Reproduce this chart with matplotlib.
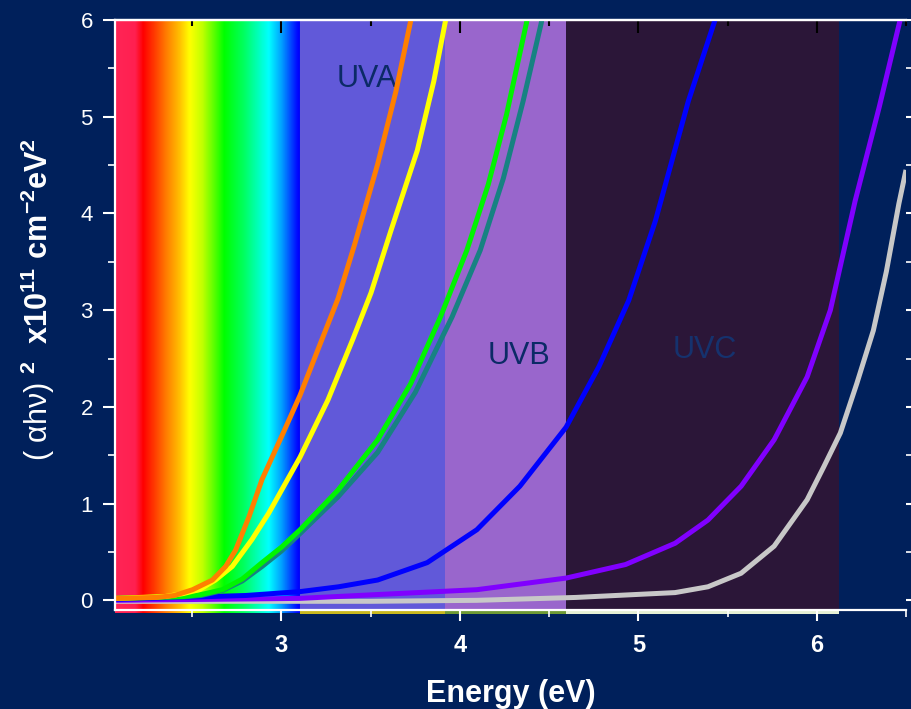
import numpy as np
import matplotlib
matplotlib.use("Agg")
import matplotlib.pyplot as plt
from matplotlib.colors import LinearSegmentedColormap

plt.rcParams['font.family'] = ['Liberation Sans', 'DejaVu Sans']
plt.rcParams['mathtext.fontset'] = 'custom'
plt.rcParams['mathtext.rm'] = 'Liberation Sans'
plt.rcParams['mathtext.bf'] = 'Liberation Sans:bold'

BG = '#00205B'

# Tauc plot curves, (alpha h nu)^2 x1e11 cm^-2 eV^2 vs energy (eV)
orange_e = [2.067, 2.30, 2.40, 2.502, 2.613, 2.687, 2.743, 2.817, 2.891, 3.002, 3.104, 3.206,
            3.317, 3.410, 3.539, 3.641, 3.724, 3.75]
orange_v = [0.02, 0.03, 0.05, 0.11, 0.21, 0.35, 0.52, 0.86, 1.25, 1.70, 2.12, 2.60,
            3.12, 3.68, 4.51, 5.26, 5.99, 6.25]

yellow_e = [2.067, 2.35, 2.45, 2.539, 2.630, 2.724, 2.835, 2.928, 3.104, 3.26, 3.40, 3.502,
            3.613, 3.761, 3.854, 3.919, 3.95]
yellow_v = [0.02, 0.04, 0.07, 0.11, 0.21, 0.35, 0.63, 0.90, 1.48, 2.07, 2.70, 3.18,
            3.82, 4.65, 5.37, 5.99, 6.30]

green_e = [2.067, 2.45, 2.55, 2.669, 2.78, 2.891, 3.0, 3.104, 3.317, 3.539, 3.724, 3.891,
           4.039, 4.159, 4.261, 4.373, 4.40]
green_v = [0.02, 0.04, 0.06, 0.11, 0.22, 0.39, 0.55, 0.73, 1.14, 1.66, 2.24, 2.93,
           3.62, 4.30, 5.02, 5.97, 6.25]

teal_e = [2.067, 2.45, 2.55, 2.667, 2.78, 2.891, 3.0, 3.104, 3.317, 3.539, 3.75, 3.956,
          4.114, 4.243, 4.354, 4.456, 4.48]
teal_v = [0.02, 0.035, 0.05, 0.10, 0.20, 0.35, 0.51, 0.69, 1.07, 1.53, 2.15, 2.93,
          3.62, 4.36, 5.16, 5.97, 6.25]

blue_e = [2.067, 2.428, 2.8, 3.104, 3.32, 3.539, 3.817, 4.095, 4.336, 4.595, 4.78, 4.946,
          5.095, 5.28, 5.428, 5.45]
blue_v = [0.01, 0.03, 0.05, 0.09, 0.14, 0.21, 0.39, 0.73, 1.18, 1.79, 2.42, 3.10,
          3.92, 5.16, 5.99, 6.20]

purple_e = [2.067, 3.10, 3.54, 4.095, 4.595, 4.928, 5.206, 5.39, 5.576, 5.761, 5.946, 6.076,
            6.215, 6.35, 6.467, 6.50]
purple_v = [0.00, 0.02, 0.06, 0.11, 0.23, 0.37, 0.59, 0.83, 1.18, 1.66, 2.31, 3.00,
            4.13, 5.10, 6.00, 6.25]

gray_e = [2.067, 3.5, 4.095, 4.651, 5.206, 5.39, 5.576, 5.761, 5.946, 6.039, 6.132, 6.224,
          6.317, 6.39, 6.46, 6.50]
gray_v = [-0.01, -0.01, 0.00, 0.03, 0.08, 0.14, 0.28, 0.56, 1.04, 1.38, 1.73, 2.24,
          2.79, 3.40, 4.10, 4.45]

curves = [
    (gray_e, gray_v, '#C8C8C8'),
    (purple_e, purple_v, '#8000FF'),
    (blue_e, blue_v, '#0000FF'),
    (teal_e, teal_v, '#178282'),
    (green_e, green_v, '#00F500'),
    (yellow_e, yellow_v, '#FFFF00'),
    (orange_e, orange_v, '#FF7F00'),
]

# visible spectrum gradient and UV bands
rainbow_e = [2.067, 2.178, 2.223, 2.278, 2.356, 2.428, 2.484, 2.556, 2.678, 2.789, 2.873, 2.928, 3.0, 3.056, 3.095, 3.106]
rainbow_c = ['#FF2556', '#FF2050', '#FF0000', '#FF3300', '#FF8000', '#FFC000', '#FFFF00', '#C0FF00',
             '#00FF00', '#00FF60', '#00FFC0', '#00FFFF', '#00A0FF', '#0040FF', '#0000FF', '#0010F0']
band_edges = [3.106, 3.917, 4.595, 6.123]
band_colors = ['#6159D9', '#9966CC', '#2B1638']
strip_colors = ['#C9B81E', '#6E9A34', '#E6F0D5']
band_names = ['UVA', 'UVB', 'UVC']
band_label_xy = [(3.48, 5.39), (4.33, 2.53), (5.374, 2.59)]
band_label_colors = ['#0B2A66', '#0B2A66', '#15326E']

fig = plt.figure(figsize=(9.12, 7.09), dpi=100, facecolor=BG)
ax = fig.add_axes([115 / 912, 99 / 709, 791 / 912, 590 / 709])
ax.set_facecolor(BG)
ax.set_xlim(2.067, 6.46)
ax.set_ylim(-0.1, 6.0)

pos = [(e - rainbow_e[0]) / (rainbow_e[-1] - rainbow_e[0]) for e in rainbow_e]
cmap = LinearSegmentedColormap.from_list('vis', list(zip(pos, rainbow_c)))
ax.imshow(np.linspace(0, 1, 600)[None, :], extent=[rainbow_e[0], rainbow_e[-1], -0.135, 6.0],
          aspect='auto', cmap=cmap, zorder=0, clip_on=False, interpolation='bilinear')

for i in range(3):
    ax.axvspan(band_edges[i], band_edges[i + 1], color=band_colors[i], lw=0, zorder=0)
    ax.axvspan(band_edges[i], band_edges[i + 1], ymin=-0.006, ymax=0.0,
               color=strip_colors[i], lw=0, zorder=0, clip_on=False)
    ax.text(band_label_xy[i][0], band_label_xy[i][1], band_names[i], color=band_label_colors[i],
            fontsize=22, ha='center', va='center', zorder=1)

for e, v, c in curves:
    ax.plot(e, v, color=c, lw=3.6, solid_capstyle='butt', solid_joinstyle='round', zorder=2)

ax.set_xticks([3, 4, 5, 6])
ax.set_xticks(np.arange(2.5, 6.6, 0.5), minor=True)
ax.set_yticks(range(0, 7))
ax.set_yticks(np.arange(0.5, 6, 0.5), minor=True)

for sp in ['left', 'bottom', 'top']:
    ax.spines[sp].set_color('white')
    ax.spines[sp].set_linewidth(1.6)
    ax.spines[sp].set_zorder(5)
ax.spines['right'].set_visible(False)

ax.tick_params(axis='x', which='major', direction='out', length=8, width=1.5, colors='white',
               labelsize=17, pad=9)
ax.tick_params(axis='x', which='minor', direction='out', length=5, width=1.2, colors='white')
for lbl in ax.get_xticklabels():
    lbl.set_fontweight('bold')
ax.tick_params(axis='y', which='major', direction='out', length=9, width=1.5, colors='white',
               labelsize=16, pad=7, right=True)
ax.tick_params(axis='y', which='minor', direction='out', length=5, width=1.2, colors='white', right=True)

top = ax.secondary_xaxis('top')
top.set_xticks([3, 4, 5, 6])
top.set_xticks(np.arange(2.5, 6.6, 0.5), minor=True)
top.tick_params(which='major', direction='in', length=9, width=1.5, colors='black', labeltop=False)
top.tick_params(which='minor', direction='in', length=4, width=1.5, colors='black')
top.spines['top'].set_color('white')
top.spines['top'].set_linewidth(1.6)

ax.set_xlabel('Energy (eV)', color='white', fontsize=22, fontweight='bold', labelpad=16)
fig.text(38 / 912, 1 - 300 / 709,
         r'( αhν) $\mathbf{^{2}}$  $\mathbf{x10^{11}\ cm^{-2}eV^{2}}$',
         rotation=90, color='white', fontsize=22, ha='center', va='center')

fig.savefig('out.png', dpi=100, facecolor=BG)
